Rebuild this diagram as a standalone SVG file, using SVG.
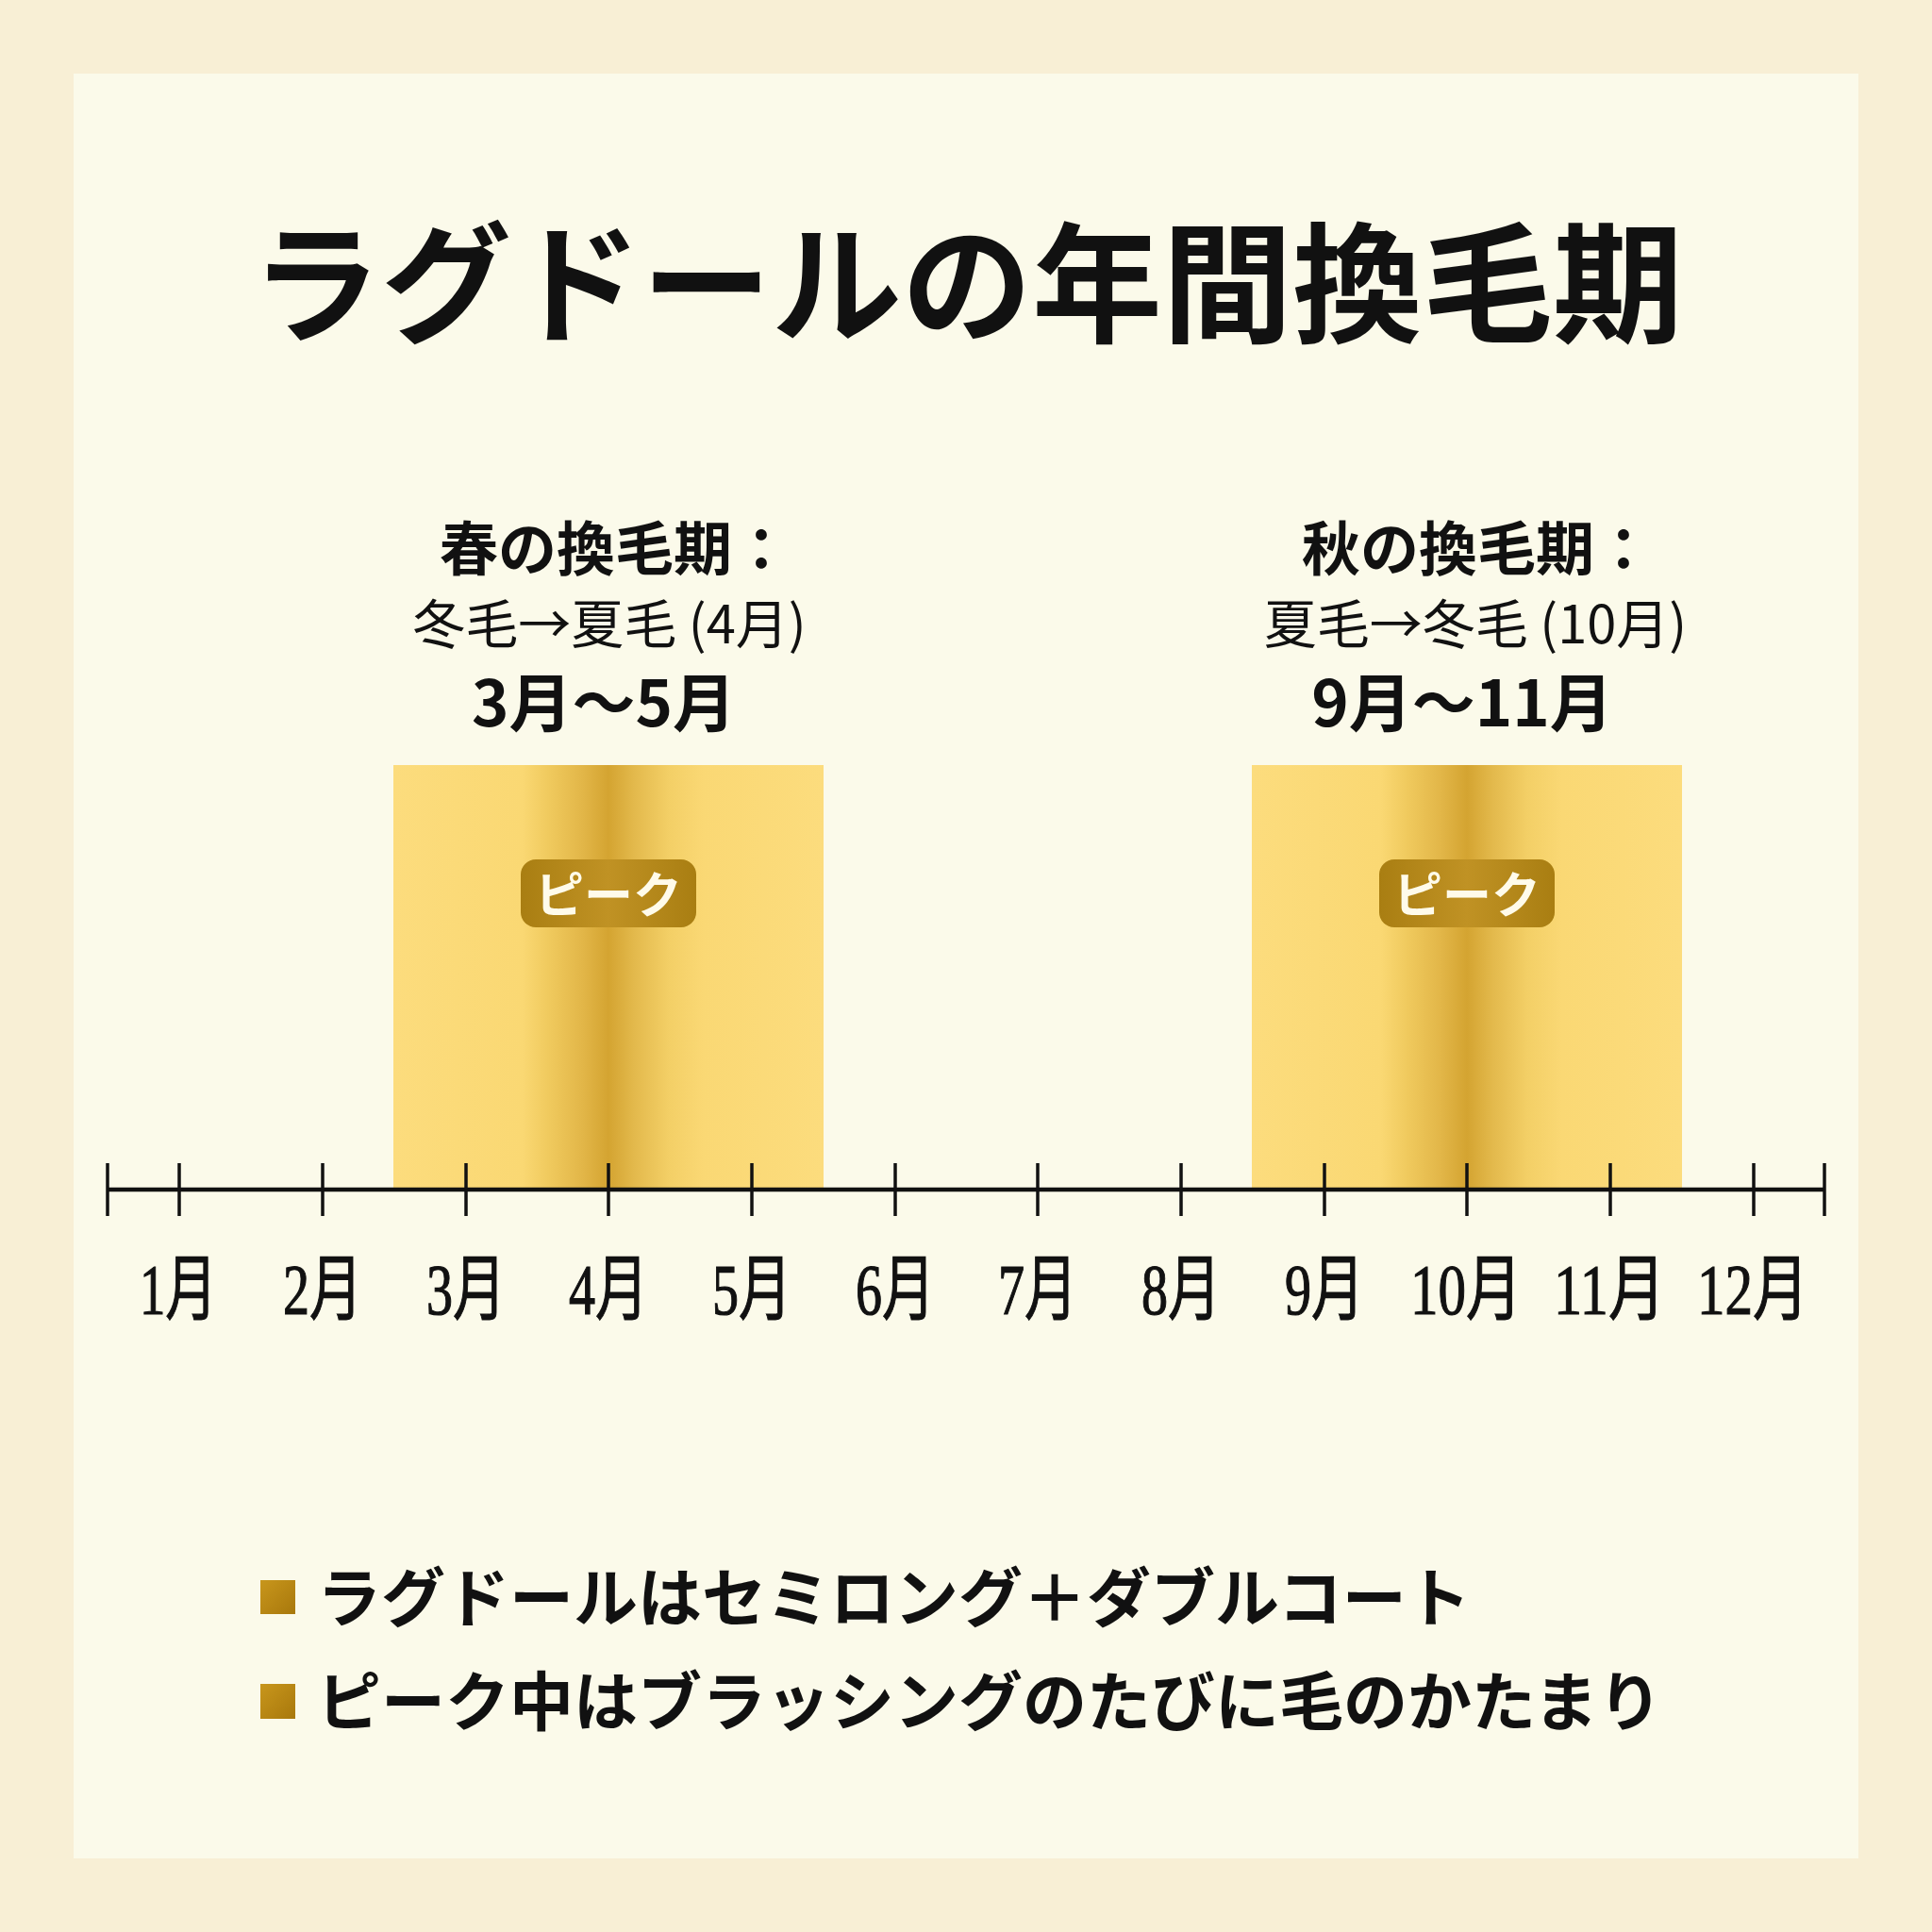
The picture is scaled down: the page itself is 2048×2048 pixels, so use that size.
<svg xmlns="http://www.w3.org/2000/svg" width="2048" height="2048" viewBox="0 0 2048 2048">
<defs>
<linearGradient id="bar" x1="0" y1="0" x2="1" y2="0">
<stop offset="0" stop-color="#fcdc7d"/>
<stop offset="0.3" stop-color="#fad873"/>
<stop offset="0.36" stop-color="#f0ca5e"/>
<stop offset="0.44" stop-color="#e2b648"/>
<stop offset="0.5" stop-color="#d4a431"/>
<stop offset="0.56" stop-color="#e3b94c"/>
<stop offset="0.64" stop-color="#f3cf66"/>
<stop offset="0.72" stop-color="#fad874"/>
<stop offset="1" stop-color="#fcdc7d"/>
</linearGradient>
<linearGradient id="badge" x1="0" y1="0" x2="1" y2="0">
<stop offset="0" stop-color="#a97e12"/>
<stop offset="0.5" stop-color="#c09224"/>
<stop offset="1" stop-color="#a97e12"/>
</linearGradient>
<linearGradient id="sq" x1="0" y1="0" x2="1" y2="1">
<stop offset="0" stop-color="#c8961c"/>
<stop offset="1" stop-color="#a8780c"/>
</linearGradient>
</defs>
<style>
.jp{font-family:"Noto Sans CJK JP","Noto Sans",sans-serif;fill:#111;}
.title{font-size:138px;font-weight:700;}
.h1{font-size:62px;font-weight:700;}
.h2{font-size:56px;font-weight:400;}
.h3{font-size:67px;font-weight:700;}
.peak{font-size:52px;font-weight:700;fill:#fffbea;}
.note{font-size:68px;font-weight:700;}
.mon{font-family:"Liberation Serif","Noto Sans CJK JP",serif;font-size:76px;fill:#111;stroke:#111;stroke-width:1.2;}
.tick{stroke:#111;stroke-width:3.5;}
</style>
<rect x="0" y="0" width="2048" height="2048" fill="#f8efd5"/>
<rect x="78" y="78" width="1892" height="1892" fill="#fbfaea"/>
<text class="jp title" x="1025" y="352" text-anchor="middle">ラグドールの年間換毛期</text>

<g id="spring">
<rect x="417" y="811" width="456" height="450" fill="url(#bar)"/>
<text class="jp h1" x="652" y="605" text-anchor="middle">春の換毛期：</text>
<text class="jp h2" x="646" y="682" text-anchor="middle">冬毛→夏毛 (4月)</text>
<text class="jp h3" x="640" y="770" text-anchor="middle">3月〜5月</text>
<g id="spring-peak">
<rect x="552" y="911" width="186" height="72" rx="16" fill="url(#badge)"/>
<text class="jp peak" x="645" y="968" text-anchor="middle">ピーク</text>
</g>
</g>

<g id="autumn">
<rect x="1327" y="811" width="456" height="450" fill="url(#bar)"/>
<text class="jp h1" x="1566" y="605" text-anchor="middle">秋の換毛期：</text>
<text class="jp h2" x="1564" y="682" text-anchor="middle">夏毛→冬毛 (10月)</text>
<text class="jp h3" x="1550" y="770" text-anchor="middle">9月〜11月</text>
<g id="autumn-peak">
<rect x="1462" y="911" width="186" height="72" rx="16" fill="url(#badge)"/>
<text class="jp peak" x="1555" y="968" text-anchor="middle">ピーク</text>
</g>
</g>

<g id="axis">
<line x1="114" y1="1261" x2="1934" y2="1261" stroke="#111" stroke-width="4.5"/>
<line class="tick" x1="114" y1="1233" x2="114" y2="1289"/>
<line class="tick" x1="1934" y1="1233" x2="1934" y2="1289"/>
<line class="tick" x1="190" y1="1233" x2="190" y2="1289"/>
<line class="tick" x1="342" y1="1233" x2="342" y2="1289"/>
<line class="tick" x1="494" y1="1233" x2="494" y2="1289"/>
<line class="tick" x1="645" y1="1233" x2="645" y2="1289"/>
<line class="tick" x1="797" y1="1233" x2="797" y2="1289"/>
<line class="tick" x1="949" y1="1233" x2="949" y2="1289"/>
<line class="tick" x1="1100" y1="1233" x2="1100" y2="1289"/>
<line class="tick" x1="1252" y1="1233" x2="1252" y2="1289"/>
<line class="tick" x1="1404" y1="1233" x2="1404" y2="1289"/>
<line class="tick" x1="1555" y1="1233" x2="1555" y2="1289"/>
<line class="tick" x1="1707" y1="1233" x2="1707" y2="1289"/>
<line class="tick" x1="1859" y1="1233" x2="1859" y2="1289"/>
</g>

<g id="months">
<text class="mon" x="148" y="1393" textLength="82" lengthAdjust="spacingAndGlyphs">1月</text>
<text class="mon" x="300" y="1393" textLength="84" lengthAdjust="spacingAndGlyphs">2月</text>
<text class="mon" x="452" y="1393" textLength="84" lengthAdjust="spacingAndGlyphs">3月</text>
<text class="mon" x="603" y="1393" textLength="84" lengthAdjust="spacingAndGlyphs">4月</text>
<text class="mon" x="755" y="1393" textLength="84" lengthAdjust="spacingAndGlyphs">5月</text>
<text class="mon" x="907" y="1393" textLength="84" lengthAdjust="spacingAndGlyphs">6月</text>
<text class="mon" x="1058" y="1393" textLength="84" lengthAdjust="spacingAndGlyphs">7月</text>
<text class="mon" x="1210" y="1393" textLength="84" lengthAdjust="spacingAndGlyphs">8月</text>
<text class="mon" x="1362" y="1393" textLength="84" lengthAdjust="spacingAndGlyphs">9月</text>
<text class="mon" x="1495" y="1393" textLength="118" lengthAdjust="spacingAndGlyphs">10月</text>
<text class="mon" x="1647" y="1393" textLength="118" lengthAdjust="spacingAndGlyphs">11月</text>
<text class="mon" x="1799" y="1393" textLength="118" lengthAdjust="spacingAndGlyphs">12月</text>
</g>

<g id="notes">
<rect x="276" y="1675" width="37" height="36" fill="url(#sq)"/>
<text class="jp note" x="336" y="1719">ラグドールはセミロング＋ダブルコート</text>
<rect x="276" y="1785" width="37" height="37" fill="url(#sq)"/>
<text class="jp note" x="336" y="1829">ピーク中はブラッシングのたびに毛のかたまり</text>
</g>
</svg>
